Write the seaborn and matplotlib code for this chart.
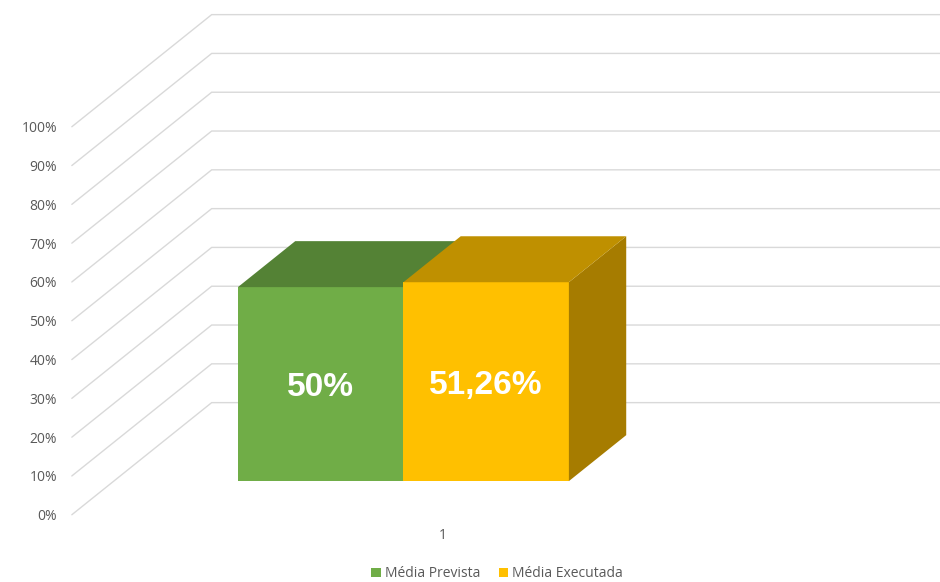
import matplotlib
matplotlib.use('Agg')
import matplotlib.pyplot as plt
import seaborn as sns
import pandas as pd
from matplotlib.patches import Polygon

categories = ['1']
series = ['Média Prevista', 'Média Executada']
values = [50.0, 51.26]
value_labels = ['50%', '51,26%']
y_ticks = list(range(0, 101, 10))
tick_labels = [f'{t}%' for t in y_ticks]

front_colors = ['#70AD47', '#FFC000']
top_colors = ['#548235', '#BF9000']
side_colors = ['#4A7330', '#A67C00']
grid_color = '#D9D9D9'
text_color = '#595959'

df = pd.DataFrame({
    'categoria': categories * len(series),
    'serie': series,
    'valor': values,
})

sns.set_style('white')
plt.rcParams['font.family'] = ['Open Sans', 'DejaVu Sans']

fig = plt.figure(figsize=(9.4, 5.82), dpi=100)
ax = fig.add_axes([0, 0, 1, 1])

sns.barplot(data=df, x='categoria', y='valor', hue='serie', hue_order=series,
            palette=front_colors, saturation=1, width=0.8, linewidth=0,
            ax=ax, zorder=3)
handles, labels = ax.get_legend_handles_labels()
ax.get_legend().remove()

ax.set_xlim(-0.975, 1.297)
ax.set_ylim(-26.0, 124.0)
ax.axis('off')

# pseudo 3D: depth vector of the whole floor, in data units
dx, dy = 0.338, 28.9
bar_front = 0.30   # bars start at 30% of depth
bar_depth = 0.41
wall_x = -0.70     # left edge of the walls at bar depth

# gridlines: front diagonal + back horizontal
for v in y_ticks:
    x0, y0 = wall_x - bar_front * dx, v - bar_front * dy
    x1, y1 = wall_x + (1 - bar_front) * dx, v + (1 - bar_front) * dy
    ax.plot([x0, x1, 1.4], [y0, y1, y1], color=grid_color, lw=1, zorder=1,
            solid_joinstyle='miter')

for v, lab in zip(y_ticks, tick_labels):
    ax.text(wall_x - bar_front * dx - 0.036, v - bar_front * dy - 0.5, lab,
            ha='right', va='center', fontsize=10, color=text_color)

# category label on the floor front
ax.text(0.095, -13.9, categories[0], ha='center', va='center',
        fontsize=10, color=text_color)

bars = [b for c in ax.containers for b in c]
bdx, bdy = bar_depth * dx, bar_depth * dy
for i, p in enumerate(bars):
    p.set_zorder(3 + i)
    x0, w, h = p.get_x(), p.get_width(), p.get_height()
    top = Polygon([(x0, h), (x0 + w, h), (x0 + w + bdx, h + bdy), (x0 + bdx, h + bdy)],
                  closed=True, facecolor=top_colors[i], lw=0, zorder=3.5 + i)
    side = Polygon([(x0 + w, 0), (x0 + w, h), (x0 + w + bdx, h + bdy), (x0 + w + bdx, bdy)],
                   closed=True, facecolor=side_colors[i], lw=0, zorder=3.5 + i)
    ax.add_patch(side)
    ax.add_patch(top)
    ax.text(x0 + w / 2, h / 2 - 1, value_labels[i], ha='center', va='center',
            fontsize=24, fontweight='bold', color='white',
            family=['Liberation Sans', 'DejaVu Sans'], zorder=10)

fig.legend(handles, labels, loc='center', bbox_to_anchor=(0.529, 0.014), ncol=2,
           frameon=False, handlelength=0.7, handleheight=0.7, handletextpad=0.3,
           columnspacing=1.3, fontsize=10, labelcolor=text_color)

fig.savefig('out.png', dpi=100, facecolor='white')
